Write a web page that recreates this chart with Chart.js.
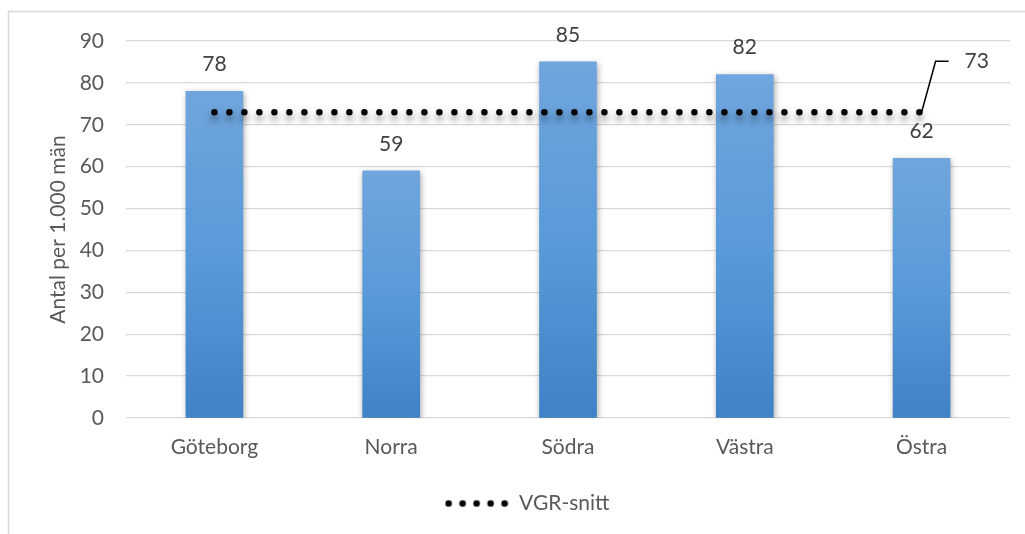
<!DOCTYPE html>
<html>
<head>
<meta charset="utf-8">
<title>Antal per 1.000 män</title>
<script src="https://cdn.jsdelivr.net/npm/chart.js@4.4.1/dist/chart.umd.min.js"></script>
<style>
  html, body { margin: 0; padding: 0; background: #ffffff; }
  #wrap { width: 1025px; height: 534px; position: relative; }
  canvas { display: block; }
</style>
</head>
<body>
<div id="wrap"><canvas id="chart" width="1025" height="534"></canvas></div>
<script>
// Data
const categories = ['Göteborg', 'Norra', 'Södra', 'Västra', 'Östra'];
const antal = [78, 59, 85, 82, 62];
const vgrSnitt = [73, 73, 73, 73, 73];
const yMin = 0;
const yMax = 90;
const yStep = 10;
const yTitle = 'Antal per 1.000 män';
const legendText = 'VGR-snitt';

const FONT = 'Lato, "Noto Sans", sans-serif';
const TEXT = '#595959';
const LABEL = '#404040';
const GRID = '#d9d9d9';

// Five-dot swatch used as the legend symbol for the average line
function dotSwatch() {
  const c = document.createElement('canvas');
  c.width = 64; c.height = 10;
  const g = c.getContext('2d');
  g.fillStyle = '#000000';
  for (let k = 0; k < 5; k++) {
    g.beginPath();
    g.arc(4 + k * 14, 5, 3.3, 0, Math.PI * 2);
    g.fill();
  }
  return c;
}
const swatch = dotSwatch();

// Per-bar vertical gradient, lighter at the top
function barFill(ctx) {
  const chart = ctx.chart;
  if (!chart.chartArea || ctx.type !== 'data') return '#5b9bd5';
  const ys = chart.scales.y;
  const top = ys.getPixelForValue(ctx.raw);
  const bottom = ys.getPixelForValue(0);
  const g = chart.ctx.createLinearGradient(0, top, 0, bottom);
  g.addColorStop(0, '#70a5dd');
  g.addColorStop(0.5, '#599ad9');
  g.addColorStop(1, '#3f82c5');
  return g;
}

// Outer frame lines (left and top)
const framePlugin = {
  id: 'frame',
  beforeDraw(chart) {
    const c = chart.ctx;
    c.save();
    c.strokeStyle = GRID;
    c.lineWidth = 1.5;
    c.beginPath();
    c.moveTo(8.5, chart.height);
    c.lineTo(8.5, 11.5);
    c.lineTo(chart.width, 11.5);
    c.stroke();
    c.restore();
  }
};

// Soft drop shadows for the bars and the dotted line
const shadowPlugin = {
  id: 'shadows',
  beforeDatasetDraw(chart, args) {
    const c = chart.ctx;
    c.save();
    if (args.meta.type === 'bar') {
      c.shadowColor = 'rgba(0,0,0,0.35)';
      c.shadowBlur = 6;
      c.shadowOffsetX = 1;
      c.shadowOffsetY = 2;
    } else {
      c.shadowColor = 'rgba(0,0,0,0.5)';
      c.shadowBlur = 7;
      c.shadowOffsetX = 0;
      c.shadowOffsetY = 5;
    }
  },
  afterDatasetDraw(chart) {
    chart.ctx.restore();
  }
};

// Value labels above the bars, and the callout label for the average line
const valueLabelPlugin = {
  id: 'valueLabels',
  afterDatasetsDraw(chart) {
    const c = chart.ctx;
    c.save();
    c.font = '21px ' + FONT;
    c.fillStyle = LABEL;
    c.textBaseline = 'middle';
    chart.data.datasets.forEach((ds, di) => {
      const meta = chart.getDatasetMeta(di);
      if (meta.type === 'bar') {
        c.textAlign = 'center';
        meta.data.forEach((el, i) => {
          c.fillText(String(ds.data[i]), el.x, el.y - 27);
        });
      } else {
        const last = meta.data[meta.data.length - 1];
        const v = ds.data[ds.data.length - 1];
        c.strokeStyle = '#000000';
        c.lineWidth = 1.5;
        c.beginPath();
        c.moveTo(last.x, last.y);
        c.lineTo(last.x + 14, last.y - 51);
        c.lineTo(last.x + 27, last.y - 51);
        c.stroke();
        c.textAlign = 'left';
        c.fillText(String(v), last.x + 43, last.y - 51);
      }
    });
    c.restore();
  }
};

new Chart(document.getElementById('chart'), {
  type: 'bar',
  data: {
    labels: categories,
    datasets: [
      {
        type: 'line',
        label: legendText,
        data: vgrSnitt,
        order: 0,
        borderColor: '#000000',
        borderWidth: 6.5,
        borderDash: [0, 15],
        borderCapStyle: 'round',
        pointRadius: 0,
        fill: false,
        tension: 0
      },
      {
        type: 'bar',
        label: 'Antal',
        data: antal,
        order: 1,
        backgroundColor: barFill,
        borderWidth: 0,
        barThickness: 57
      }
    ]
  },
  options: {
    responsive: false,
    animation: false,
    devicePixelRatio: 1,
    layout: { padding: { top: 41, right: 15, bottom: 10, left: 44 } },
    plugins: {
      tooltip: { enabled: false },
      legend: {
        position: 'bottom',
        labels: {
          usePointStyle: true,
          pointStyleWidth: 64,
          padding: 10,
          color: TEXT,
          font: { family: FONT, size: 21 },
          generateLabels() {
            return [{
              text: legendText,
              pointStyle: swatch,
              fontColor: TEXT,
              lineWidth: 0,
              hidden: false,
              datasetIndex: 0
            }];
          }
        }
      }
    },
    scales: {
      x: {
        grid: { display: false, drawTicks: false },
        border: { display: false },
        ticks: { color: TEXT, font: { family: FONT, size: 21 }, padding: 17 },
        afterFit(scale) { scale.height = 65; }
      },
      y: {
        min: yMin,
        max: yMax,
        ticks: { stepSize: yStep, color: TEXT, font: { family: FONT, size: 21 }, padding: 22 },
        grid: { color: GRID, lineWidth: 1.3, drawTicks: false },
        border: { display: false },
        title: {
          display: true,
          text: yTitle,
          color: TEXT,
          font: { family: FONT, size: 21 },
          padding: { top: 2, bottom: 0 }
        },
        afterFit(scale) { scale.width = 82; }
      }
    }
  },
  plugins: [framePlugin, shadowPlugin, valueLabelPlugin]
});
</script>
</body>
</html>
